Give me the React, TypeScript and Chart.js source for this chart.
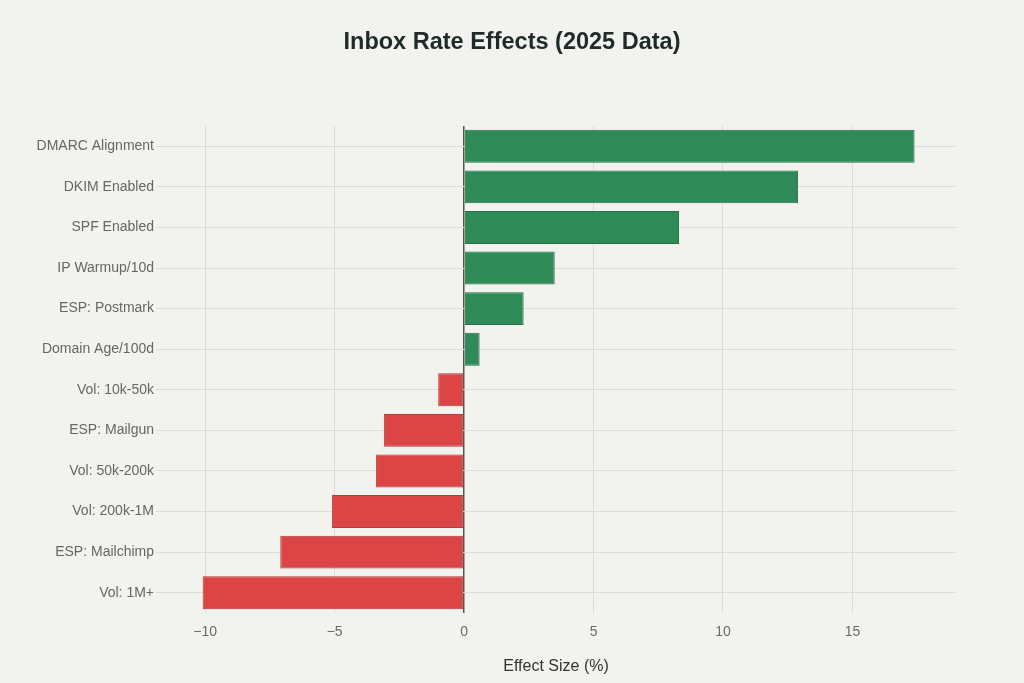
import React, { useEffect, useRef } from "react";
import { Chart, registerables } from "chart.js";

Chart.register(...registerables);

const categories = [
  "DMARC Alignment",
  "DKIM Enabled",
  "SPF Enabled",
  "IP Warmup/10d",
  "ESP: Postmark",
  "Domain Age/100d",
  "Vol: 10k-50k",
  "ESP: Mailgun",
  "Vol: 50k-200k",
  "Vol: 200k-1M",
  "ESP: Mailchimp",
  "Vol: 1M+",
];
const effects = [17.4, 12.9, 8.3, 3.5, 2.3, 0.6, -1.0, -3.1, -3.4, -5.1, -7.1, -10.1];

const TITLE = "Inbox Rate Effects (2025 Data)";
const X_TITLE = "Effect Size (%)";
const X_MIN = -11.9;
const X_MAX = 19;

const GREEN = "#2e8b57";
const GREEN_BORDER = "#25724a";
const RED = "#db4545";
const RED_BORDER = "#b93a3a";
const BG = "#f2f2ee";

const titlePlugin = {
  id: "centerTitle",
  afterDraw(chart: any) {
    const ctx = chart.ctx;
    ctx.save();
    ctx.fillStyle = "#1f2a2a";
    ctx.font = "bold 23.5px 'Liberation Sans'";
    ctx.textAlign = "center";
    ctx.textBaseline = "middle";
    ctx.fillText(TITLE, chart.width / 2, 43);
    ctx.restore();
  },
};

export default function App() {
  const ref = useRef<HTMLCanvasElement | null>(null);

  useEffect(() => {
    document.body.style.margin = "0";
    document.body.style.background = BG;
    const canvas = ref.current;
    if (!canvas) return;
    const chart = new Chart(canvas, {
      type: "bar",
      data: {
        labels: categories,
        datasets: [
          {
            data: effects,
            backgroundColor: effects.map((v) => (v >= 0 ? GREEN : RED)),
            borderColor: effects.map((v) => (v >= 0 ? GREEN_BORDER : RED_BORDER)),
            borderWidth: 1,
            borderSkipped: false,
            barPercentage: 0.81,
            categoryPercentage: 1,
          },
        ],
      },
      options: {
        indexAxis: "y",
        responsive: false,
        animation: false,
        layout: { padding: { left: 0, right: 68, top: 126, bottom: 7 } },
        plugins: {
          legend: { display: false },
          tooltip: { enabled: false },
          title: { display: false },
        },
        scales: {
          x: {
            type: "linear",
            min: X_MIN,
            max: X_MAX,
            border: { display: false },
            grid: {
              drawTicks: false,
              color: (ctx: any) => (ctx.tick && ctx.tick.value === 0 ? "#555555" : "#dcdcd8"),
              lineWidth: (ctx: any) => (ctx.tick && ctx.tick.value === 0 ? 1.5 : 1),
            },
            ticks: {
              stepSize: 5,
              includeBounds: false,
              padding: 11,
              color: "#6b6b6b",
              font: { family: "Liberation Sans", size: 14 },
              callback: (v: any) => (Number(v) < 0 ? "\u2212" + Math.abs(Number(v)) : String(v)),
            },
            title: {
              display: true,
              text: X_TITLE,
              color: "#333333",
              font: { family: "Liberation Sans", size: 16 },
              padding: { top: 5, bottom: 0 },
            },
          },
          y: {
            border: { display: false },
            grid: { offset: false, drawTicks: false, color: "#dcdcd8" },
            ticks: {
              padding: 2,
              color: "#666666",
              font: { family: "Liberation Sans", size: 14 },
            },
            afterFit: (s: any) => {
              s.width = 156;
            },
          },
        },
      },
      plugins: [titlePlugin],
    } as any);
    return () => chart.destroy();
  }, []);

  return (
    <div style={{ position: "absolute", left: 0, top: 0, width: 1024, height: 683, background: BG }}>
      <canvas ref={ref} width={1024} height={683} style={{ width: 1024, height: 683, display: "block" }} />
    </div>
  );
}
